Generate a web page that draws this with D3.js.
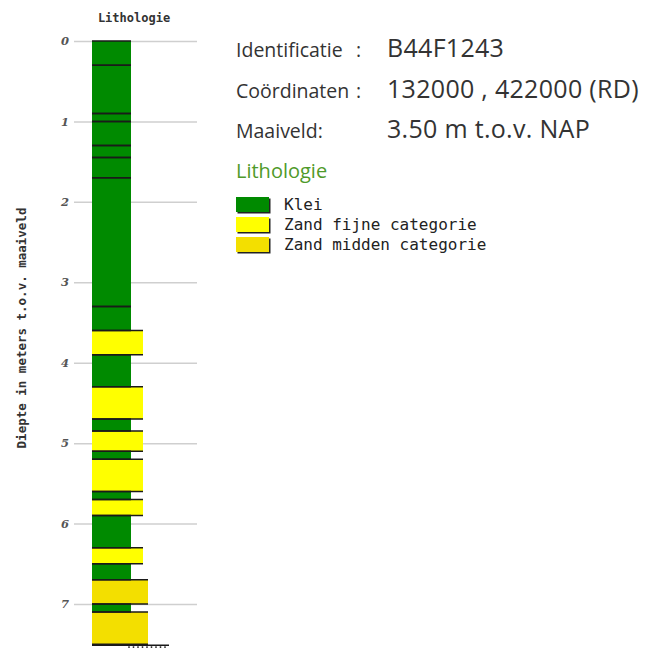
<!DOCTYPE html>
<html>
<head>
<meta charset="utf-8">
<script src="https://cdn.jsdelivr.net/npm/d3@7"></script>
<style>
  body { margin: 0; background: #fff; }
  svg { display: block; }
</style>
</head>
<body>
<svg width="647" height="648"></svg>
<script>
// layer data (depth in m below surface)
const layerTop = [0, 0.3, 0.9, 1.0, 1.3, 1.45, 1.7, 3.3, 3.6, 3.9, 4.3, 4.7, 4.85, 5.1, 5.2, 5.6, 5.7, 5.9, 6.3, 6.5, 6.7, 7.0, 7.1];
const layerBottom = [0.3, 0.9, 1.0, 1.3, 1.45, 1.7, 3.3, 3.6, 3.9, 4.3, 4.7, 4.85, 5.1, 5.2, 5.6, 5.7, 5.9, 6.3, 6.5, 6.7, 7.0, 7.1, 7.5];
const layerCode = ["K", "K", "K", "K", "K", "K", "K", "K", "ZF", "K", "ZF", "K", "ZF", "K", "ZF", "K", "ZF", "K", "ZF", "K", "ZM", "K", "ZM"];

const lithoCodes = ["K", "ZF", "ZM"];
const lithoNames = ["Klei", "Zand fijne categorie", "Zand midden categorie"];
const depthTicks = [0, 1, 2, 3, 4, 5, 6, 7];

const infoLabels = ["Identificatie", "Coördinaten", "Maaiveld:"];
const infoColons = [":", ":", ""];
const infoValues = ["B44F1243", "132000 , 422000 (RD)", "3.50 m t.o.v. NAP"];

const colorOf = d3.scaleOrdinal().domain(lithoCodes).range(["#008a00", "#ffff00", "#f3df00"]);
const widthOf = d3.scaleOrdinal().domain(lithoCodes).range([39, 51, 56]);

const svg = d3.select("svg");
const mono = "'DejaVu Sans Mono', monospace";

const y = d3.scaleLinear().domain([0, 7]).range([41, 604]);
const colX = 92;

// title
svg.append("text")
    .attr("x", 134).attr("y", 22)
    .attr("text-anchor", "middle")
    .style("font-family", mono)
    .style("font-size", "12px")
    .style("font-weight", "bold")
    .attr("fill", "#333")
    .text("Lithologie");

// y label
svg.append("text")
    .attr("transform", "translate(26,328) rotate(-90)")
    .attr("text-anchor", "middle")
    .style("font-family", mono)
    .style("font-size", "12.5px")
    .style("font-weight", "bold")
    .attr("fill", "#333")
    .text("Diepte in meters t.o.v. maaiveld");

// grid + ticks
const axis = svg.append("g")
    .attr("transform", `translate(74,0)`)
    .call(d3.axisLeft(y).tickValues(depthTicks).tickSize(-123).tickPadding(5).tickFormat(d3.format("d")));
axis.select(".domain").remove();
axis.selectAll("line").attr("stroke", "#cfcfcf").attr("stroke-width", 1.5);
axis.selectAll("text")
    .style("font-family", "'DejaVu Serif', serif")
    .style("font-style", "italic")
    .style("font-weight", "bold")
    .style("font-size", "11.5px")
    .attr("fill", "#555");

// layers
const layers = layerTop.map((t, i) => ({ top: t, bottom: layerBottom[i], code: layerCode[i] }));
const lg = svg.append("g");
lg.selectAll("rect")
    .data(layers)
    .join("rect")
    .attr("x", colX)
    .attr("y", d => y(d.top))
    .attr("width", d => widthOf(d.code))
    .attr("height", d => y(d.bottom) - y(d.top))
    .attr("fill", d => colorOf(d.code));

lg.selectAll("line.top")
    .data(layers)
    .join("line")
    .attr("class", "top")
    .attr("x1", colX).attr("x2", d => colX + widthOf(d.code))
    .attr("y1", d => y(d.top)).attr("y2", d => y(d.top))
    .attr("stroke", "#1a1a1a").attr("stroke-width", 1.5);

lg.selectAll("line.bot")
    .data(layers)
    .join("line")
    .attr("class", "bot")
    .attr("x1", colX).attr("x2", d => colX + widthOf(d.code))
    .attr("y1", d => y(d.bottom)).attr("y2", d => y(d.bottom))
    .attr("stroke", "#1a1a1a").attr("stroke-width", 1.5);

// next (cut off) layer with hatch
const lastY = y(layerBottom[layerBottom.length - 1]);
svg.append("line")
    .attr("x1", colX).attr("x2", 169)
    .attr("y1", lastY + 1).attr("y2", lastY + 1)
    .attr("stroke", "#1a1a1a").attr("stroke-width", 1.5);
svg.append("g").selectAll("line")
    .data(d3.range(129, 169, 4.5))
    .join("line")
    .attr("x1", d => d).attr("x2", d => d)
    .attr("y1", lastY + 2).attr("y2", lastY + 6)
    .attr("stroke", "#333").attr("stroke-width", 1.5);

// info block
const info = svg.append("g");
infoLabels.forEach((lab, i) => {
    const by = 57 + i * 40.5;
    info.append("text")
        .attr("x", 236).attr("y", by)
        .style("font-family", "'Open Sans', sans-serif")
        .style("font-size", "19.5px")
        .attr("fill", "#333")
        .text(lab);
    info.append("text")
        .attr("x", 356).attr("y", by)
        .style("font-family", "'Open Sans', sans-serif")
        .style("font-size", "19.5px")
        .attr("fill", "#333")
        .text(infoColons[i]);
    info.append("text")
        .attr("x", 387).attr("y", by)
        .style("font-family", "'Open Sans', sans-serif")
        .style("font-size", "25px")
        .style("letter-spacing", "0.3px")
        .attr("fill", "#333")
        .text(infoValues[i]);
});

svg.append("text")
    .attr("x", 236).attr("y", 178)
    .style("font-family", "'Open Sans', sans-serif")
    .style("font-size", "20px")
    .attr("fill", "#4f9a2a")
    .text("Lithologie");

// legend
const leg = svg.append("g").attr("transform", "translate(236,197)");
const rows = leg.selectAll("g")
    .data(lithoCodes)
    .join("g")
    .attr("transform", (d, i) => `translate(0,${i * 20})`);
rows.append("rect")
    .attr("x", 1.5).attr("y", 1.5)
    .attr("width", 33).attr("height", 15)
    .attr("fill", "#222");
rows.append("rect")
    .attr("width", 33).attr("height", 15)
    .attr("fill", d => colorOf(d));
rows.append("text")
    .attr("x", 48).attr("y", 12.5)
    .style("font-family", mono)
    .style("font-size", "16px")
    .attr("fill", "#222")
    .text((d, i) => lithoNames[i]);
</script>
</body>
</html>
